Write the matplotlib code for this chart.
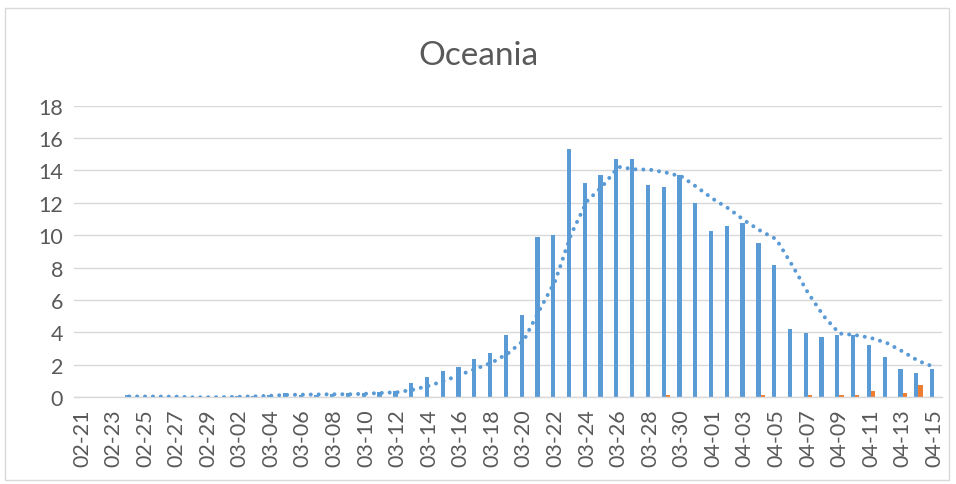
import numpy as np
import pandas as pd
import matplotlib
matplotlib.use("Agg")
import matplotlib.pyplot as plt
from matplotlib.patches import Rectangle

plt.rcParams['font.family'] = ['Lato', 'DejaVu Sans']

# dagen 02-21 t/m 04-15 (2020, schrikkeljaar)
dates = pd.date_range('2020-02-21', '2020-04-15').strftime('%m-%d').tolist()

blue = [0.02, 0.02, 0.02, 0.15, 0, 0, 0, 0, 0,
        0.03, 0.1, 0.1, 0.15, 0.25, 0.15, 0.15, 0.2, 0.25, 0.28, 0.35, 0.37,
        0.88, 1.26, 1.6, 1.87, 2.37, 2.76, 3.85, 5.06, 9.9, 10.0, 15.3,
        13.2, 13.7, 14.7, 14.7, 13.1, 13.0, 13.7, 12.0,
        10.25, 10.6, 10.75, 9.5, 8.17, 4.22, 3.95, 3.72, 3.85, 3.85,
        3.23, 2.49, 1.75, 1.5, 1.75]

orange = [0, 0, 0, 0, 0, 0, 0, 0, 0,
          0, 0, 0, 0, 0.03, 0, 0, 0.03, 0, 0, 0, 0,
          0, 0, 0, 0.03, 0, 0, 0.03, 0, 0.03, 0, 0,
          0, 0.03, 0.03, 0.03, 0, 0.14, 0.03, 0.03,
          0.03, 0.03, 0.03, 0.16, 0.03, 0.03, 0.14, 0.03, 0.14, 0.14,
          0.39, 0.03, 0.27, 0.76, 0]

# Excel trendlijn: voortschrijdend gemiddelde over 4 dagen
trend = pd.Series(blue).rolling(4).mean()

fig = plt.figure(figsize=(9.56, 4.85), dpi=100)
ax = fig.add_axes([0.0774, 0.1788, 0.9080, 0.6012])

x = np.arange(len(dates))
w = 0.27
ax.bar(x - w / 2, blue, width=w, color='#5B9BD5', zorder=2)
ax.bar(x + w / 2, orange, width=w, color='#ED7D31', zorder=2)
ax.plot(x, trend, color='#5B9BD5', linewidth=2.9, linestyle=(0, (0.01, 1.95)),
        dash_capstyle='round', solid_capstyle='round', zorder=3)

ax.set_xlim(-0.5, len(dates) - 0.5)
ax.set_ylim(0, 18)
ax.set_yticks(range(0, 19, 2))
ax.set_xticks(x[::2])
ax.set_xticklabels(dates[::2], rotation=90)

ax.grid(axis='y', color='#D9D9D9', linewidth=1.0, zorder=0)
for side in ['top', 'right', 'left']:
    ax.spines[side].set_visible(False)
ax.spines['bottom'].set_color('#D9D9D9')
ax.spines['bottom'].set_linewidth(1.0)
ax.tick_params(axis='both', length=0, labelsize=15.5, colors='#595959')
ax.tick_params(axis='y', pad=8)
ax.tick_params(axis='x', pad=8)

fig.text(0.5, 0.885, 'Oceania', ha='center', va='center', fontsize=24, color='#595959')

# lichtgrijze rand om de grafiek
fig.patches.append(Rectangle((0.005, 0.008), 0.988, 0.973, transform=fig.transFigure,
                             fill=False, edgecolor='#D9D9D9', linewidth=1.0))

fig.savefig('out.png', dpi=100)
